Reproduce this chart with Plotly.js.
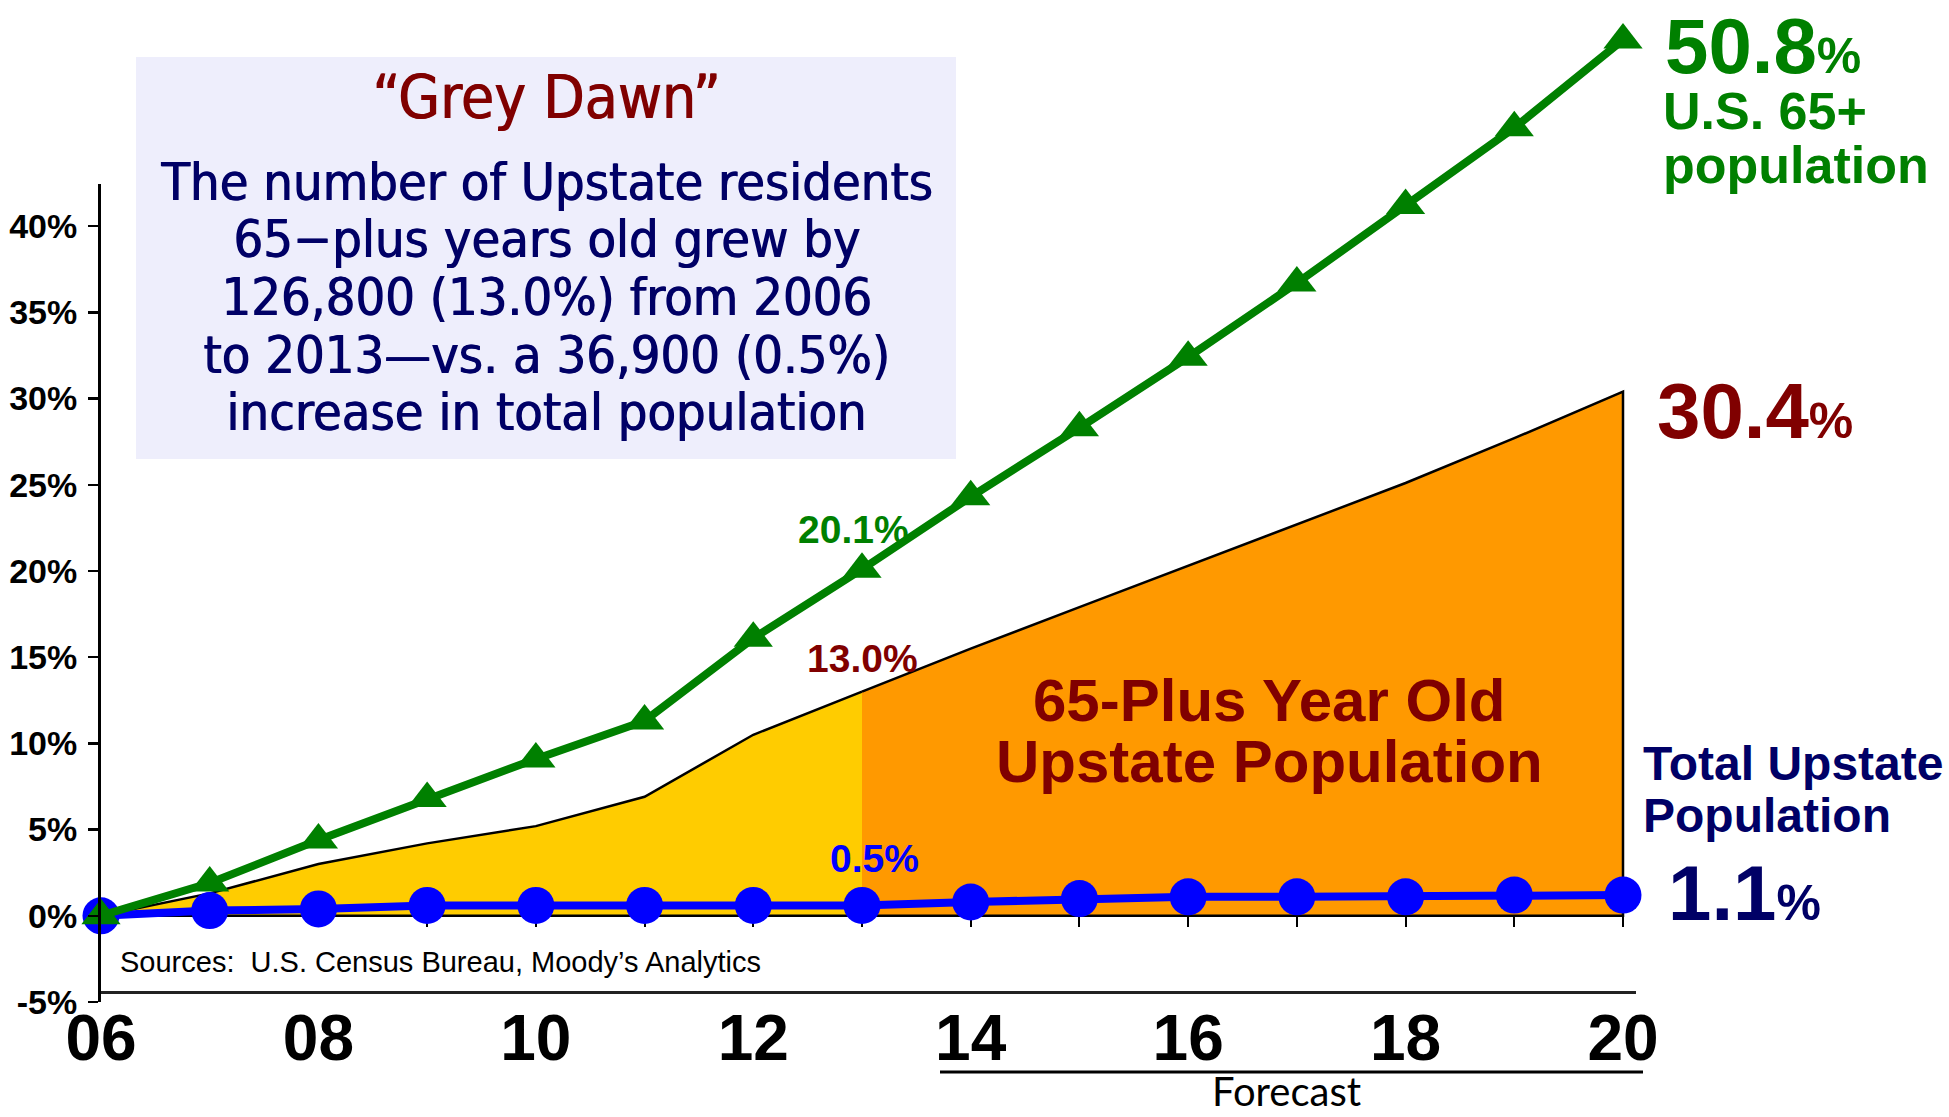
<!DOCTYPE html>
<html>
<head>
<meta charset="utf-8">
<script src="https://cdn.plot.ly/plotly-3.0.1.min.js"></script>
<style>
  html, body { margin: 0; padding: 0; background: #ffffff; }
  #chart { width: 1949px; height: 1117px; }
</style>
</head>
<body>
<div id="chart"></div>
<script>
// ---------------- data ----------------
const years = [2006, 2007, 2008, 2009, 2010, 2011, 2012, 2013, 2014, 2015, 2016, 2017, 2018, 2019, 2020];
const upstate65 = [0, 1.3, 3.0, 4.2, 5.2, 6.9, 10.5, 13.0, 15.5, 17.9, 20.3, 22.7, 25.1, 27.7, 30.4];
const usa65 = [0, 1.9, 4.4, 6.8, 9.1, 11.3, 16.1, 20.1, 24.3, 28.3, 32.4, 36.7, 41.2, 45.7, 50.8];
const totalPop = [0, 0.3, 0.4, 0.6, 0.6, 0.6, 0.6, 0.6, 0.8, 1.0, 1.1, 1.1, 1.1, 1.2, 1.2];
const forecastStartIndex = 7; // 2013

const xTickVals = [2006, 2008, 2010, 2012, 2014, 2016, 2018, 2020];
const xTickText = ['06', '08', '10', '12', '14', '16', '18', '20'];
const yTickVals = [-5, 0, 5, 10, 15, 20, 25, 30, 35, 40];
const yTickText = ['-5%', '0%', '5%', '10%', '15%', '20%', '25%', '30%', '35%', '40%'];

const boxTitle = '\u201CGrey Dawn\u201D';
const boxLines = [
  'The number of Upstate residents',
  '65\u2212plus years old grew by',
  '126,800 (13.0%) from 2006',
  'to 2013\u2014vs. a 36,900 (0.5%)',
  'increase in total population'
];
const sourceText = 'Sources:  U.S. Census Bureau, Moody\u2019s Analytics';

// ---------------- layout helpers ----------------
const L = 101, R = 1636, T = 2, B = 1002;
const W = R - L, H = B - T;
const px = x => (x - L) / W;
const py = y => (B - y) / H;

const yMin = -5, yMax = 53;
const yAxis2Top = 42.44;
const xMax = 2020 + 13 / 108.71;

const ARIAL = "'Liberation Sans', Arial, sans-serif";
const TAHOMA = "'DejaVu Sans Condensed', 'DejaVu Sans', sans-serif";
const LATO = "Lato, 'Open Sans', sans-serif";

const GREEN = '#008000', DARKRED = '#800000', NAVY = '#000066', BLUE = '#0000FF';

// ---------------- traces ----------------
const yearsA = years.slice(0, forecastStartIndex + 1);
const yearsB = years.slice(forecastStartIndex);
const zerosA = yearsA.map(() => 0);
const zerosB = yearsB.map(() => 0);

const yellowArea = {
  x: [...yearsA].reverse().concat(yearsA),
  y: zerosA.concat(upstate65.slice(0, forecastStartIndex + 1)),
  type: 'scatter', mode: 'lines', fill: 'toself',
  fillcolor: '#FFCC00', line: { color: '#000000', width: 2.5 },
  hoverinfo: 'skip'
};
const orangeArea = {
  x: yearsB.concat([...yearsB].reverse()),
  y: upstate65.slice(forecastStartIndex).concat(zerosB),
  type: 'scatter', mode: 'lines', fill: 'toself',
  fillcolor: '#FF9900', line: { color: '#000000', width: 2.5 },
  hoverinfo: 'skip'
};
const totalTrace = {
  x: years, y: totalPop, type: 'scatter', mode: 'lines+markers',
  line: { color: BLUE, width: 8 },
  marker: { color: BLUE, size: 37, symbol: 'circle' },
  cliponaxis: false
};
const usaTrace = {
  x: years, y: usa65, type: 'scatter', mode: 'lines+markers',
  line: { color: GREEN, width: 8 },
  marker: { color: GREEN, size: 34, symbol: 'triangle-up' },
  cliponaxis: false
};
// carriers so the secondary axes (value scale and 0% tick row) are drawn
const yScaleCarrier = {
  x: [years[0]], y: [totalPop[0]], xaxis: 'x', yaxis: 'y2', type: 'scatter',
  mode: 'markers', marker: { opacity: 0, size: 1 }, hoverinfo: 'skip'
};
const xTickCarrier = {
  x: [years[0]], y: [totalPop[0]], xaxis: 'x2', yaxis: 'y', type: 'scatter',
  mode: 'markers', marker: { opacity: 0, size: 1 }, hoverinfo: 'skip'
};

// ---------------- annotations ----------------
const annotations = [];
function paperText(text, x, y, size, color, family, xanchor, weight, shadow) {
  const font = { family: family, size: size, color: color, weight: weight || 'normal' };
  if (shadow) font.shadow = shadow;
  annotations.push({
    text: text, xref: 'paper', yref: 'paper', x: px(x), y: py(y),
    xanchor: xanchor || 'center', yanchor: 'middle', showarrow: false, font: font
  });
}
function dataText(text, xi, series, dx, dy, size, color, xanchor) {
  annotations.push({
    text: text, xref: 'x', yref: 'y', x: years[xi], y: series[xi],
    xshift: dx, yshift: dy, xanchor: xanchor || 'center', yanchor: 'middle',
    showarrow: false,
    font: { family: ARIAL, size: size, color: color, weight: 'bold' }
  });
}

// text box
paperText(boxTitle, 546, 97, 60, DARKRED, TAHOMA, 'center', 'normal', '1px 0px 0px ' + DARKRED);
const boxBaselines = [200, 257, 315, 373, 430];
boxLines.forEach((t, i) => paperText(t, 546, boxBaselines[i] - 18, 52, NAVY, TAHOMA, 'center', 'normal', '1px 0px 0px ' + NAVY));

// point labels
const last = years.length - 1;
dataText('20.1%', forecastStartIndex, usa65, -9, 40, 39, GREEN);
dataText('13.0%', forecastStartIndex, upstate65, 0, 33, 39, DARKRED);
dataText('0.5%', forecastStartIndex, totalPop, 12, 47, 39, BLUE);

// right-side end labels
dataText(usa65[last].toFixed(1) + '<span style="font-size:50px">%</span>', last, usa65, 40, -6, 78, GREEN, 'left');
paperText('U.S. 65+', 1661, 111, 52, GREEN, ARIAL, 'left', 'bold');
paperText('population', 1661, 165, 52, GREEN, ARIAL, 'left', 'bold');
dataText(upstate65[last].toFixed(1) + '<span style="font-size:50px">%</span>', last, upstate65, 32, -19, 78, DARKRED, 'left');
paperText('Total Upstate', 1641, 763, 48, NAVY, ARIAL, 'left', 'bold');
paperText('Population', 1641, 815, 48, NAVY, ARIAL, 'left', 'bold');
dataText('1.1<span style="font-size:50px">%</span>', last, totalPop, 43, 2, 78, NAVY, 'left');

// area label
paperText('65-Plus Year Old', 1269, 700, 60, DARKRED, ARIAL, 'center', 'bold');
paperText('Upstate Population', 1269, 761, 60, DARKRED, ARIAL, 'center', 'bold');

// sources & forecast
paperText(sourceText, 118, 962, 29, '#000000', ARIAL, 'left');
paperText('Forecast', 1286, 1091, 40, '#000000', LATO, 'center');

// ---------------- shapes ----------------
const shapes = [
  { type: 'rect', xref: 'paper', yref: 'paper', x0: px(136), x1: px(956), y0: py(459), y1: py(57),
    fillcolor: '#EEEEFC', line: { width: 0 }, layer: 'below' },
  { type: 'line', xref: 'paper', yref: 'paper', x0: px(940), x1: px(1643), y0: py(1072), y1: py(1072),
    line: { color: '#000000', width: 3 } }
];

const layout = {
  width: 1949, height: 1117, autosize: false,
  margin: { l: L, r: 1949 - R, t: T, b: 1117 - B, pad: 0 },
  paper_bgcolor: '#ffffff', plot_bgcolor: 'rgba(0,0,0,0)',
  showlegend: false,
  xaxis: {
    range: [2006, xMax], anchor: 'free', position: 0.01,
    showline: true, linecolor: '#222222', linewidth: 3,
    showgrid: false, zeroline: false, ticks: '',
    tickmode: 'array', tickvals: xTickVals, ticktext: xTickText,
    tickfont: { family: ARIAL, size: 64, color: '#000000', weight: 'bold' },
    ticklabelstandoff: -11, fixedrange: true
  },
  xaxis2: {
    range: [2006, xMax], overlaying: 'x', anchor: 'free',
    position: (0 - yMin) / (yMax - yMin),
    showline: false, showgrid: false, zeroline: false,
    ticks: 'outside', ticklen: 10, tickwidth: 2, tickcolor: '#000000',
    tickmode: 'linear', tick0: 2006, dtick: 1, showticklabels: false,
    layer: 'below traces', fixedrange: true
  },
  yaxis: { range: [yMin, yMax], visible: false, fixedrange: true },
  yaxis2: {
    domain: [0, (yAxis2Top - yMin) / (yMax - yMin)], range: [yMin, yAxis2Top],
    anchor: 'x', side: 'left',
    showline: true, linecolor: '#000000', linewidth: 3,
    showgrid: false, zeroline: false,
    ticks: 'outside', ticklen: 10, tickwidth: 2.5, tickcolor: '#000000',
    tickmode: 'array', tickvals: yTickVals, ticktext: yTickText,
    tickfont: { family: ARIAL, size: 34, color: '#000000', weight: 'bold' },
    ticklabelstandoff: 4, layer: 'below traces', fixedrange: true
  },
  annotations: annotations,
  shapes: shapes
};

Plotly.newPlot('chart',
  [yellowArea, orangeArea, yScaleCarrier, xTickCarrier, totalTrace, usaTrace], layout,
  { displayModeBar: false, staticPlot: true });
</script>
</body>
</html>
